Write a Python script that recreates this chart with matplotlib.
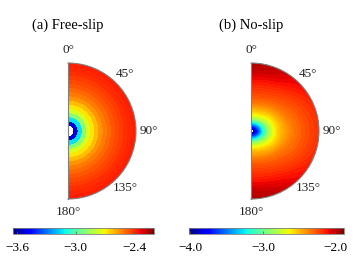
import numpy as np
import matplotlib
matplotlib.use('Agg')
import matplotlib.pyplot as plt
import matplotlib.tri as mtri
from matplotlib.cm import ScalarMappable
from matplotlib.colors import Normalize

plt.rcParams['font.family'] = ['Liberation Serif', 'DejaVu Serif']

# (a) free-slip: one value per ring (log scale), inner hole up to r = 0.08
fs_r_edges = np.linspace(0.08, 1.0, 16)
fs_ring_vals = [-3.52, -3.14, -2.90, -2.76, -2.68, -2.62, -2.56, -2.52,
                -2.49, -2.46, -2.44, -2.42, -2.40, -2.39, -2.38]
fs_vmin, fs_vmax = -3.64, -2.20
fs_ticks = [-3.6, -3.0, -2.4]

# (b) no-slip: values on a coarse (r, theta) table
ns_r = [0.04, 0.08, 0.15, 0.25, 0.35, 0.5, 0.7, 0.85, 1.0]
ns_theta_deg = [0, 30, 60, 90, 120, 150, 180]
ns_vals = [
    [-3.91, -3.91, -3.91, -3.91, -3.91, -3.91, -3.91],
    [-3.59, -3.64, -3.72, -3.76, -3.72, -3.64, -3.59],
    [-3.06, -3.12, -3.29, -3.38, -3.29, -3.12, -3.06],
    [-2.63, -2.67, -2.82, -2.91, -2.82, -2.67, -2.63],
    [-2.44, -2.48, -2.59, -2.63, -2.59, -2.48, -2.44],
    [-2.27, -2.31, -2.39, -2.44, -2.39, -2.31, -2.27],
    [-2.14, -2.18, -2.27, -2.31, -2.27, -2.18, -2.14],
    [-2.03, -2.09, -2.20, -2.24, -2.20, -2.09, -2.03],
    [-1.97, -2.03, -2.14, -2.18, -2.14, -2.03, -1.97],
]
ns_vmin, ns_vmax = -4.02, -1.88
ns_ticks = [-4.0, -3.0, -2.0]

angle_ticks = [0, 45, 90, 135, 180]
angle_labels = ['0°', '45°', '90°', '135°', '180°']

fig = plt.figure(figsize=(3.56, 2.67), dpi=100)
W, H = 356.0, 267.0


def half_polar(cx, top, bottom):
    # the half disc is fitted into a square box, centred in it
    R = (bottom - top) / 2
    cy = (top + bottom) / 2
    xc = cx + R / 2
    ax = fig.add_axes([(xc - R) / W, 1 - (cy + R) / H, 2 * R / W, 2 * R / H],
                      projection='polar')
    ax.set_theta_zero_location('N')
    ax.set_theta_direction(-1)
    ax.set_thetamin(0)
    ax.set_thetamax(180)
    ax.set_ylim(0, 1)
    ax.set_yticks([])
    ax.set_xticks(np.radians(angle_ticks))
    ax.set_xticklabels(angle_labels, fontsize=9.5, color='#222222')
    ax.tick_params(axis='x', pad=-1)
    ax.grid(False)
    for s in ax.spines.values():
        s.set_color('#808080')
        s.set_linewidth(0.8)
    return ax


def add_cbar(vmin, vmax, x0, x1, ticks):
    sm = ScalarMappable(norm=Normalize(vmin, vmax), cmap='jet')
    cax = fig.add_axes([x0 / W, 1 - 234 / H, (x1 - x0) / W, 6.5 / H])
    cb = fig.colorbar(sm, cax=cax, orientation='horizontal')
    cb.set_ticks(ticks)
    cb.set_ticklabels(['\u2212%.1f' % abs(t) for t in ticks])
    cb.ax.tick_params(labelsize=9.5, length=2, width=0.5, direction='in',
                      pad=6, color='#555555')
    cb.outline.set_edgecolor('#808080')
    cb.outline.set_linewidth(0.6)
    return cb


# (a) free-slip
ax1 = half_polar(68, 63, 199)
th_edges = np.linspace(0, np.pi, 181)
C1 = np.tile(np.array(fs_ring_vals)[:, None], (1, len(th_edges) - 1))
TH, RR = np.meshgrid(th_edges, fs_r_edges)
ax1.pcolormesh(TH, RR, C1, cmap='jet', vmin=fs_vmin, vmax=fs_vmax,
               shading='flat', rasterized=True)
ax1.set_ylim(0, 1)
fig.text(68 / W, 1 - 25 / H, '(a) Free-slip', fontsize=10.5,
         ha='center', va='center')
add_cbar(fs_vmin, fs_vmax, 13, 154, fs_ticks)

# (b) no-slip
ax2 = half_polar(251, 63, 199)
tg, rg = np.meshgrid(np.radians(ns_theta_deg), ns_r)
tri = mtri.Triangulation(tg.ravel(), rg.ravel())
refiner = mtri.UniformTriRefiner(tri)
tri_f, z_f = refiner.refine_field(np.array(ns_vals).ravel(), subdiv=4)
levels = np.linspace(ns_vmin, ns_vmax, 80)
ax2.tricontourf(tri_f, z_f, levels=levels, cmap='jet',
                vmin=ns_vmin, vmax=ns_vmax)
ax2.set_ylim(0, 1)
fig.text(251 / W, 1 - 25 / H, '(b) No-slip', fontsize=10.5,
         ha='center', va='center')
add_cbar(ns_vmin, ns_vmax, 189, 344, ns_ticks)

fig.savefig('out.png', dpi=100)
